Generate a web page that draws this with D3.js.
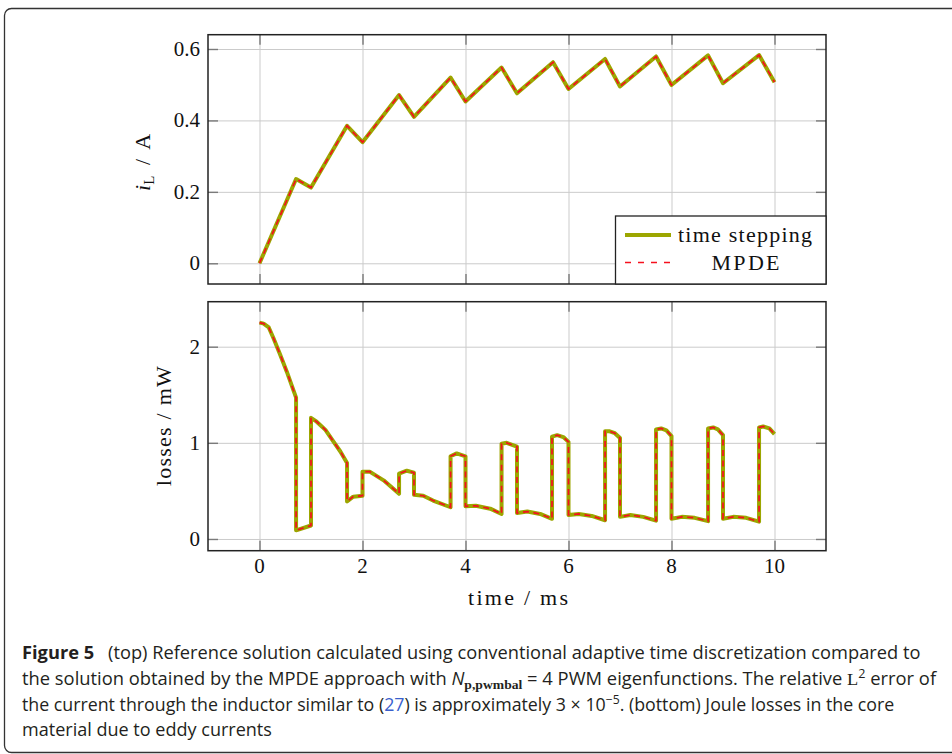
<!DOCTYPE html>
<html>
<head>
<meta charset="utf-8">
<script src="https://cdn.jsdelivr.net/npm/d3@7"></script>
<style>
  html, body { margin: 0; padding: 0; background: #fff; }
  svg { display: block; }
</style>
</head>
<body>
<div id="chart-area"></div>
<script>
/*
*    Figure 5 - inductor current and core losses (time stepping vs MPDE)
*/

// ---- data ----
var currentTime = [0, 0.71, 1.0, 1.70, 2.0, 2.71, 3.0, 3.71, 4.0, 4.70, 5.0,
                   5.70, 6.0, 6.71, 7.0, 7.70, 8.0, 8.71, 9.0, 9.70, 10.0];
var currentAmp  = [0, 0.236, 0.212, 0.385, 0.339, 0.471, 0.410, 0.520, 0.453, 0.548, 0.476,
                   0.563, 0.488, 0.572, 0.495, 0.579, 0.499, 0.582, 0.504, 0.583, 0.507];

var lossTime = [
    0, 0.08, 0.18, 0.27, 0.40, 0.53, 0.71,
    0.71, 1.0,
    1.0, 1.11, 1.28, 1.44, 1.57, 1.70,
    1.70, 1.82, 2.0,
    2.0, 2.14, 2.41, 2.71,
    2.71, 2.86, 3.0,
    3.0, 3.18, 3.37, 3.71,
    3.71, 3.83, 4.0,
    4.0, 4.2, 4.48, 4.70,
    4.70, 4.80, 5.0,
    5.0, 5.2, 5.45, 5.68,
    5.68, 5.78, 5.9, 6.0,
    6.0, 6.2, 6.45, 6.71,
    6.71, 6.8, 6.9, 7.0,
    7.0, 7.2, 7.45, 7.70,
    7.70, 7.8, 7.9, 8.0,
    8.0, 8.2, 8.45, 8.71,
    8.71, 8.81, 8.9, 9.0,
    9.0, 9.2, 9.45, 9.70,
    9.70, 9.78, 9.9, 10.0
];
var lossValue = [
    2.25, 2.24, 2.20, 2.09, 1.92, 1.74, 1.47,
    0.09, 0.14,
    1.26, 1.22, 1.135, 1.01, 0.91, 0.79,
    0.39, 0.44, 0.45,
    0.70, 0.70, 0.61, 0.47,
    0.68, 0.71, 0.69,
    0.46, 0.45, 0.40, 0.33,
    0.86, 0.89, 0.86,
    0.34, 0.345, 0.315, 0.26,
    0.99, 1.0, 0.96,
    0.27, 0.285, 0.26, 0.21,
    1.065, 1.08, 1.06, 1.01,
    0.25, 0.26, 0.24, 0.195,
    1.12, 1.12, 1.10, 1.05,
    0.23, 0.25, 0.23, 0.19,
    1.14, 1.15, 1.13, 1.07,
    0.21, 0.23, 0.22, 0.185,
    1.15, 1.16, 1.14, 1.08,
    0.21, 0.23, 0.22, 0.18,
    1.16, 1.17, 1.15, 1.09
];

var xTicks = [0, 2, 4, 6, 8, 10];
var xTickLabels = ["0", "2", "4", "6", "8", "10"];
var topTicks = [0, 0.2, 0.4, 0.6];
var topTickLabels = ["0", "0.2", "0.4", "0.6"];
var bottomTicks = [0, 1, 2];
var bottomTickLabels = ["0", "1", "2"];
var seriesNames = ["time stepping", "MPDE"];

// ---- style ----
var GREEN = "#9ca600";
var RED = "#f5101e";
var SERIF = "'Liberation Serif', 'Times New Roman', serif";
var SANS = "'Open Sans', 'Noto Sans', sans-serif";

var svg = d3.select("#chart-area")
    .append("svg")
        .attr("width", 952)
        .attr("height", 754);

// outer figure frame (rounded, runs off the right edge)
svg.append("rect")
    .attr("x", 4.5).attr("y", 8.5)
    .attr("width", 980).attr("height", 744)
    .attr("rx", 7).attr("ry", 7)
    .attr("fill", "none")
    .attr("stroke", "#333")
    .attr("stroke-width", 1.3);

// ---- scales ----
var x = d3.scaleLinear().domain([-1, 11]).range([208, 826]);
var yTop = d3.scaleLinear().domain([-0.058, 0.640]).range([284, 34.7]);
var yBot = d3.scaleLinear().domain([-0.122, 2.468]).range([550.7, 301.7]);

function drawPanel(y, yTicks, yLabels, showX) {
    var x0 = x.range()[0], x1 = x.range()[1];
    var yb = y.range()[0], yt = y.range()[1];
    var g = svg.append("g");

    // grid
    g.append("g")
        .attr("transform", "translate(0," + yb + ")")
        .call(d3.axisBottom(x).tickValues(xTicks).tickSize(-(yb - yt)).tickFormat(""))
        .call(s => s.select(".domain").remove())
        .call(s => s.selectAll("line").attr("stroke", "#cbcbcb").attr("stroke-width", 1));
    g.append("g")
        .attr("transform", "translate(" + x0 + ",0)")
        .call(d3.axisLeft(y).tickValues(yTicks).tickSize(-(x1 - x0)).tickFormat(""))
        .call(s => s.select(".domain").remove())
        .call(s => s.selectAll("line").attr("stroke", "#cbcbcb").attr("stroke-width", 1));

    // inward ticks on all four sides
    var tickLen = 10;
    var tickAxes = [
        [d3.axisBottom(x).tickValues(xTicks), "translate(0," + yb + ")"],
        [d3.axisTop(x).tickValues(xTicks), "translate(0," + yt + ")"],
        [d3.axisLeft(y).tickValues(yTicks), "translate(" + x0 + ",0)"],
        [d3.axisRight(y).tickValues(yTicks), "translate(" + x1 + ",0)"]
    ];
    tickAxes.forEach(function(a) {
        g.append("g")
            .attr("transform", a[1])
            .call(a[0].tickSize(-tickLen).tickFormat(""))
            .call(s => s.select(".domain").remove())
            .call(s => s.selectAll("line").attr("stroke", "#7a7a7a").attr("stroke-width", 1.4));
    });

    // tick labels
    g.append("g").selectAll("text")
        .data(yTicks)
        .enter()
        .append("text")
            .attr("x", 200)
            .attr("y", d => y(d) + 7)
            .attr("text-anchor", "end")
            .attr("font-family", SERIF)
            .attr("font-size", 21)
            .attr("fill", "#111")
            .text((d, i) => yLabels[i]);

    if (showX) {
        g.append("g").selectAll("text")
            .data(xTicks)
            .enter()
            .append("text")
                .attr("x", d => x(d))
                .attr("y", 573)
                .attr("text-anchor", "middle")
                .attr("font-family", SERIF)
                .attr("font-size", 21)
                .attr("fill", "#111")
                .text((d, i) => xTickLabels[i]);
    }
    return g;
}

function drawFrame(y) {
    var x0 = x.range()[0], x1 = x.range()[1];
    svg.append("rect")
        .attr("x", x0).attr("y", y.range()[1])
        .attr("width", x1 - x0).attr("height", y.range()[0] - y.range()[1])
        .attr("fill", "none")
        .attr("stroke", "#222")
        .attr("stroke-width", 1.5);
}

function drawSeries(xs, ys, y) {
    var pts = xs.map((t, i) => [t, ys[i]]);
    var line = d3.line().x(d => x(d[0])).y(d => y(d[1]));
    // time stepping (solid olive)
    svg.append("path")
        .attr("d", line(pts))
        .attr("fill", "none")
        .attr("stroke", GREEN)
        .attr("stroke-width", 4)
        .attr("stroke-linejoin", "round");
    // MPDE (dashed red) on top
    svg.append("path")
        .attr("d", line(pts))
        .attr("fill", "none")
        .attr("stroke", RED)
        .attr("stroke-width", 1.7)
        .attr("stroke-dasharray", "6,4.5");
}

// serif label, spread out (spacing only) to the width seen in the figure
function serifLabel(str, cx, cy, width, rot) {
    return svg.append("text")
        .attr("transform", "translate(" + cx + "," + cy + ")" + (rot ? " rotate(" + rot + ")" : ""))
        .attr("text-anchor", "middle")
        .attr("font-family", SERIF)
        .attr("font-size", 22)
        .attr("fill", "#111")
        .attr("textLength", width)
        .attr("lengthAdjust", "spacing")
        .text(str);
}

// ---- top panel: inductor current ----
drawPanel(yTop, topTicks, topTickLabels, false);
drawSeries(currentTime, currentAmp, yTop);
drawFrame(yTop);

// legend
var leg = svg.append("g");
leg.append("rect")
    .attr("x", 615.5).attr("y", 216)
    .attr("width", 210.5).attr("height", 68)
    .attr("fill", "#fff")
    .attr("stroke", "#222")
    .attr("stroke-width", 1.3);
leg.append("line")
    .attr("x1", 625).attr("x2", 671).attr("y1", 235).attr("y2", 235)
    .attr("stroke", GREEN).attr("stroke-width", 4);
leg.append("line")
    .attr("x1", 625).attr("x2", 671).attr("y1", 262.5).attr("y2", 262.5)
    .attr("stroke", RED).attr("stroke-width", 1.7)
    .attr("stroke-dasharray", "6,7");
serifLabel(seriesNames[0], 745, 242, 134);
serifLabel(seriesNames[1], 745.5, 270, 68);

// y label top: i_L / A
var yl1 = svg.append("text")
    .attr("transform", "translate(150," + ((34.7 + 284) / 2 + 3) + ") rotate(-90)")
    .attr("text-anchor", "middle")
    .attr("font-family", SERIF)
    .attr("font-size", 22)
    .attr("fill", "#111")
    .attr("word-spacing", 5);
yl1.append("tspan").attr("font-style", "italic").text("i");
yl1.append("tspan").attr("font-size", 15).attr("dy", 4).text("L");
yl1.append("tspan").attr("dy", -4).text(" / A");

// ---- bottom panel: losses ----
drawPanel(yBot, bottomTicks, bottomTickLabels, true);
drawSeries(lossTime, lossValue, yBot);
drawFrame(yBot);

serifLabel("losses / mW", 171, (301.7 + 550.7) / 2, 120, -90);
serifLabel("time / ms", 518, 605, 100);

// ---- caption ----
var CAP = "#231f20";
function captionLine(yBase, target) {
    var t = svg.append("text")
        .attr("x", 0).attr("y", 0)
        .attr("font-family", SANS)
        .attr("font-size", 17.5)
        .attr("fill", CAP);
    t.fit = function() {
        var w = t.node().getComputedTextLength();
        t.attr("transform", "translate(22," + yBase + ") scale(" + (target / w) + ",1)");
    };
    return t;
}

var c1 = captionLine(659, 899);
c1.append("tspan").attr("font-weight", 700).text("Figure 5");
c1.append("tspan").text("\u2002 (top) Reference solution calculated using conventional adaptive time discretization compared to");
c1.fit();

var c2 = captionLine(685, 915);
c2.append("tspan").text("the solution obtained by the MPDE approach with ");
c2.append("tspan").attr("font-style", "italic").text("N");
c2.append("tspan").attr("font-family", SERIF).attr("font-weight", 700).attr("font-size", 13).attr("dy", 4).text("p,pwmbal");
c2.append("tspan").attr("dy", -4).text(" = 4 PWM eigenfunctions. The relative ");
c2.append("tspan").attr("font-family", SERIF).text("L");
c2.append("tspan").attr("font-size", 12).attr("dy", -7).text("2");
c2.append("tspan").attr("dy", 7).text(" error of");
c2.fit();

var c3 = captionLine(711, 873);
c3.append("tspan").text("the current through the inductor similar to (");
c3.append("tspan").attr("fill", "#3a5fcd").text("27");
c3.append("tspan").text(") is approximately 3 \u00d7 10");
c3.append("tspan").attr("font-size", 12).attr("dy", -7).text("\u22125");
c3.append("tspan").attr("dy", 7).text(". (bottom) Joule losses in the core");
c3.fit();

var c4 = captionLine(736, 250);
c4.text("material due to eddy currents");
c4.fit();
</script>
</body>
</html>
